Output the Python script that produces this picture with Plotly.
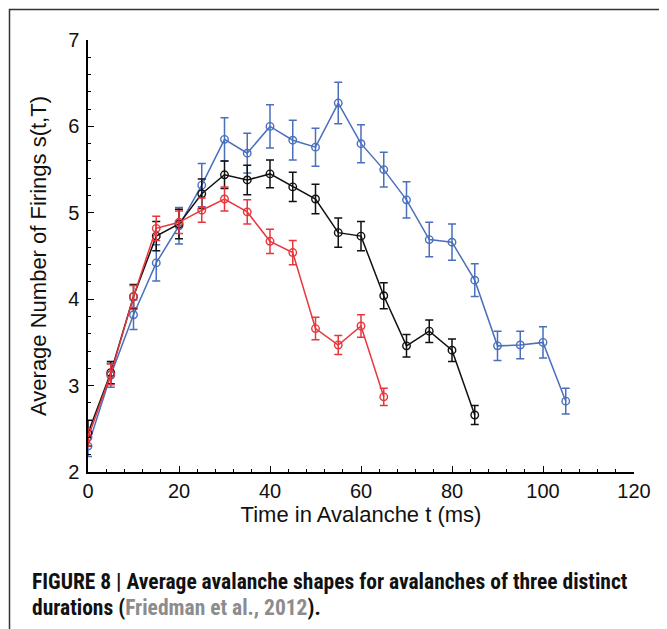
import plotly.graph_objects as go

# ---- data ----
t_red = [0, 5, 10, 15, 20, 25, 30, 35, 40, 45, 50, 55, 60, 65]
s_red = [2.40, 3.13, 4.03, 4.82, 4.89, 5.03, 5.16, 5.01, 4.67, 4.54, 3.66, 3.47, 3.69, 2.87]
e_red = [0.10, 0.12, 0.13, 0.14, 0.13, 0.14, 0.14, 0.14, 0.14, 0.14, 0.13, 0.11, 0.13, 0.10]

t_black = [0, 5, 10, 15, 20, 25, 30, 35, 40, 45, 50, 55, 60, 65, 70, 75, 80, 85]
s_black = [2.45, 3.15, 4.03, 4.73, 4.87, 5.22, 5.44, 5.38, 5.45, 5.30, 5.16, 4.77, 4.73, 4.04, 3.46, 3.63, 3.41, 2.66]
e_black = [0.15, 0.13, 0.14, 0.17, 0.17, 0.17, 0.16, 0.17, 0.16, 0.17, 0.17, 0.17, 0.17, 0.15, 0.13, 0.13, 0.13, 0.11]

t_blue = [0, 5, 10, 15, 20, 25, 30, 35, 40, 45, 50, 55, 60, 65, 70, 75, 80, 85, 90, 95, 100, 105]
s_blue = [2.30, 3.12, 3.82, 4.42, 4.85, 5.32, 5.85, 5.69, 6.00, 5.84, 5.76, 6.27, 5.80, 5.50, 5.15, 4.69, 4.66, 4.22, 3.46, 3.47, 3.50, 2.82]
e_blue = [0.12, 0.14, 0.17, 0.21, 0.21, 0.25, 0.25, 0.23, 0.25, 0.23, 0.22, 0.24, 0.22, 0.20, 0.21, 0.20, 0.21, 0.19, 0.17, 0.16, 0.18, 0.15]

x_ticks = [0, 20, 40, 60, 80, 100, 120]
y_ticks = [2, 3, 4, 5, 6, 7]

x_title = "Time in Avalanche t (ms)"
y_title = "Average Number of Firings s(t,T)"
caption_1 = "<b>FIGURE 8 | Average avalanche shapes for avalanches of three distinct</b>"
caption_2 = "<b>durations (<span style='color:#8c8c8c'>Friedman et al., 2012</span>).</b>"

BLUE = "#4a6fbd"
BLACK = "#111111"
RED = "#e8363c"

fig = go.Figure()


def add_series(t, s, e, color):
    fig.add_trace(go.Scatter(
        x=t, y=s, mode="lines+markers",
        line=dict(color=color, width=1.5),
        marker=dict(symbol="circle-open", size=7.5, color=color, line=dict(width=1.4, color=color)),
        error_y=dict(type="data", array=e, visible=True, color=color, thickness=1.5, width=4),
        showlegend=False, hoverinfo="x+y",
    ))


add_series(t_blue, s_blue, e_blue, BLUE)
add_series(t_black, s_black, e_black, BLACK)
add_series(t_red, s_red, e_red, RED)

TICKFONT = dict(family="Liberation Sans, Arial, sans-serif", size=20, color="#111")
TITLEFONT = dict(family="Liberation Sans, Arial, sans-serif", size=22, color="#111")

fig.update_xaxes(
    range=[0, 120], tickvals=x_ticks, ticktext=[str(v) for v in x_ticks],
    showline=True, linecolor="black", linewidth=1.5, mirror=False,
    ticks="inside", ticklen=6, tickwidth=1.3, tickcolor="black",
    minor=dict(dtick=4, ticks="inside", ticklen=3, tickwidth=1.2, tickcolor="black"),
    showgrid=False, zeroline=False, tickfont=TICKFONT,
    title=dict(text=x_title, font=TITLEFONT, standoff=5),
    ticklabelstandoff=0,
)
fig.update_yaxes(
    range=[2, 7], tickvals=y_ticks, ticktext=[str(v) for v in y_ticks],
    showline=True, linecolor="black", linewidth=1.5, mirror=False,
    ticks="inside", ticklen=6, tickwidth=1.3, tickcolor="black",
    minor=dict(dtick=0.2, ticks="inside", ticklen=3, tickwidth=1.2, tickcolor="black"),
    showgrid=False, zeroline=False, tickfont=TICKFONT,
    title=dict(text=y_title, font=TITLEFONT, standoff=15),
    ticklabelstandoff=3,
)

# the page body adds an 8px offset, so the figure covers target pixels 8..667 / 8..629
OFF = 8
W, H = 667 - OFF, 629 - OFF
# plot area in target pixels: x 88..634, y 40..472
L, R, T, B = 88 - OFF, 667 - 634, 40 - OFF, 629 - 472
pw, ph = W - L - R, H - T - B


def px_x(px):
    return (px - OFF - L) / pw


def px_y(py):
    return (H - B - (py - OFF)) / ph


fig.add_shape(type="rect", xref="paper", yref="paper",
              x0=px_x(9.5), x1=px_x(664), y0=px_y(660), y1=px_y(9.5),
              line=dict(color="#333", width=1.5), fillcolor="rgba(0,0,0,0)", layer="below")

CAPFONT = dict(family="Liberation Sans Narrow, Roboto Condensed, Roboto, Arial, sans-serif", size=21.5, color="#111")
fig.add_annotation(xref="paper", yref="paper", x=px_x(30), y=px_y(581), xanchor="left", yanchor="middle",
                   text=caption_1, showarrow=False, font=CAPFONT, align="left")
fig.add_annotation(xref="paper", yref="paper", x=px_x(30), y=px_y(607), xanchor="left", yanchor="middle",
                   text=caption_2, showarrow=False, font=CAPFONT, align="left")

fig.update_layout(
    width=W, height=H,
    margin=dict(l=L, r=R, t=T, b=B, autoexpand=False),
    paper_bgcolor="white", plot_bgcolor="white",
    font=dict(family="Liberation Sans, Arial, sans-serif"),
)

fig.write_html("out.html")
